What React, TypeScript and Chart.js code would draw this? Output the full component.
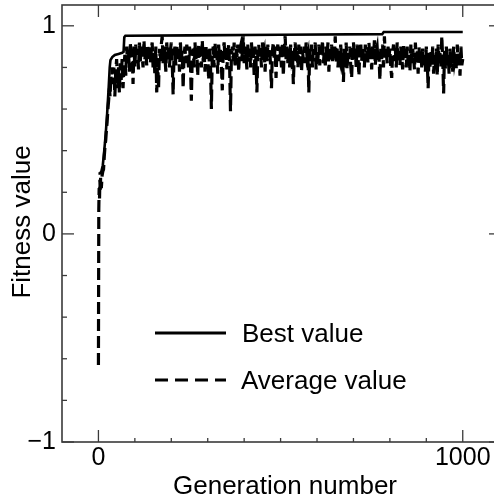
import React, { useEffect, useRef } from 'react';
import { Chart, registerables } from 'chart.js';

Chart.register(...registerables);

// ---- data ----
const earlyGenerations = [0, 1, 2, 3, 4, 5, 6, 8, 10, 12, 14, 16, 18, 20, 22, 24, 26, 28, 30, 32, 34, 36, 38];
const earlyAverage = [-0.63, 0.12, 0.22, 0.17, 0.26, 0.2, 0.27, 0.22, 0.28, 0.3, 0.31, 0.37, 0.42, 0.45, 0.5, 0.54, 0.6, 0.64, 0.7, 0.66, 0.76, 0.72, 0.8];

// average value every 2.5 generations from generation 40 to 1000
const lateStartGeneration = 40;
const lateStepGeneration = 2.5;
const lateAverage = [
  0.72, 0.8, 0.66, 0.78, 0.84, 0.7, 0.8, 0.68, 0.82, 0.74,
  0.84, 0.7, 0.8, 0.86, 0.76, 0.9, 0.82, 0.88, 0.78, 0.92,
  0.84, 0.88, 0.72, 0.9, 0.8, 0.91, 0.85, 0.89, 0.79, 0.92,
  0.83, 0.9, 0.86, 0.8, 0.93, 0.84, 0.89, 0.81, 0.91, 0.86,
  0.9, 0.82, 0.88, 0.92, 0.8, 0.87, 0.76, 0.9, 0.68, 0.84,
  0.7, 0.89, 0.83, 0.91, 0.95, 0.82, 0.9, 0.85, 0.78, 0.92,
  0.84, 0.9, 0.8, 0.88, 0.92, 0.83, 0.67, 0.87, 0.9, 0.81,
  0.91, 0.85, 0.89, 0.78, 0.92, 0.84, 0.88, 0.7, 0.86, 0.9,
  0.82, 0.91, 0.86, 0.79, 0.9, 0.83, 0.64, 0.85, 0.89, 0.8,
  0.92, 0.84, 0.88, 0.76, 0.91, 0.85, 0.9, 0.8, 0.93, 0.83,
  0.89, 0.78, 0.91, 0.84, 0.88, 0.74, 0.9, 0.82, 0.6, 0.86,
  0.9, 0.8, 0.92, 0.85, 0.88, 0.77, 0.91, 0.83, 0.89, 0.81,
  0.69, 0.88, 0.92, 0.84, 0.9, 0.79, 0.87, 0.91, 0.82, 0.59,
  0.86, 0.9, 0.83, 0.92, 0.8, 0.89, 0.85, 0.91, 0.78, 0.88,
  0.9, 0.83, 0.87, 0.95, 0.82, 0.9, 0.86, 0.79, 0.91, 0.84,
  0.89, 0.8, 0.92, 0.85, 0.88, 0.76, 0.9, 0.83, 0.68, 0.87,
  0.91, 0.84, 0.89, 0.8, 0.92, 0.86, 0.88, 0.78, 0.9, 0.83,
  0.91, 0.85, 0.89, 0.81, 0.7, 0.88, 0.92, 0.84, 0.9, 0.75,
  0.88, 0.91, 0.83, 0.9, 0.86, 0.8, 0.92, 0.76, 0.88, 0.95,
  0.84, 0.9, 0.82, 0.89, 0.8, 0.91, 0.85, 0.88, 0.72, 0.86,
  0.92, 0.83, 0.89, 0.8, 0.91, 0.86, 0.9, 0.78, 0.88, 0.84,
  0.9, 0.82, 0.92, 0.85, 0.87, 0.68, 0.89, 0.83, 0.91, 0.8,
  0.9, 0.86, 0.92, 0.79, 0.88, 0.84, 0.91, 0.81, 0.89, 0.85,
  0.93, 0.82, 0.88, 0.8, 0.9, 0.85, 0.92, 0.78, 0.89, 0.84,
  0.91, 0.83, 0.89, 0.86, 0.95, 0.82, 0.9, 0.8, 0.88, 0.85,
  0.91, 0.84, 0.87, 0.73, 0.89, 0.82, 0.92, 0.79, 0.88, 0.84,
  0.9, 0.81, 0.75, 0.88, 0.92, 0.84, 0.89, 0.8, 0.91, 0.85,
  0.76, 0.88, 0.92, 0.83, 0.9, 0.86, 0.8, 0.91, 0.84, 0.89,
  0.82, 0.92, 0.85, 0.88, 0.79, 0.9, 0.84, 0.93, 0.81, 0.88,
  0.9, 0.83, 0.86, 0.74, 0.89, 0.84, 0.91, 0.8, 0.95, 0.85,
  0.88, 0.82, 0.9, 0.85, 0.89, 0.8, 0.75, 0.87, 0.91, 0.83,
  0.89, 0.8, 0.92, 0.84, 0.88, 0.81, 0.9, 0.86, 0.79, 0.91,
  0.84, 0.88, 0.8, 0.9, 0.83, 0.87, 0.78, 0.91, 0.82, 0.89,
  0.85, 0.79, 0.92, 0.83, 0.88, 0.77, 0.9, 0.82, 0.87, 0.8,
  0.89, 0.81, 0.86, 0.78, 0.9, 0.83, 0.7, 0.87, 0.8, 0.88,
  0.82, 0.9, 0.77, 0.86, 0.8, 0.89, 0.76, 0.91, 0.83, 0.87,
  0.8, 0.95, 0.84, 0.675, 0.88, 0.79, 0.9, 0.82, 0.86, 0.77,
  0.89, 0.8, 0.87, 0.78, 0.9, 0.83, 0.86, 0.79, 0.91, 0.82,
  0.87, 0.76, 0.9, 0.81, 0.84,
];

const bestGenerations = [0, 4, 8, 12, 16, 20, 24, 28, 31, 33, 38, 45, 55, 65, 69, 71, 74, 250, 500, 779, 783, 1000];
const bestValues = [0.29, 0.29, 0.3, 0.33, 0.4, 0.48, 0.58, 0.7, 0.8, 0.835, 0.85, 0.86, 0.865, 0.87, 0.875, 0.945, 0.952, 0.954, 0.957, 0.96, 0.97, 0.97];

const xTickLabels = [0, 1000];
const xMinorTicks = [100, 200, 300, 400, 500, 600, 700, 800, 900];
const yTickLabels = [-1, 0, 1];
const yMinorTicks = [-0.8, -0.6, -0.4, -0.2, 0.2, 0.4, 0.6, 0.8];

const seriesNames = ['Best value', 'Average value'];
const xTitle = 'Generation number';
const yTitle = 'Fitness value';

const FONT = '"Liberation Sans", Arial, Helvetica, sans-serif';

function buildAverage() {
  const pts: { x: number; y: number }[] = [];
  earlyGenerations.forEach((g, i) => pts.push({ x: g, y: earlyAverage[i] }));
  lateAverage.forEach((v, i) => pts.push({ x: lateStartGeneration + i * lateStepGeneration, y: v }));
  return pts;
}

const framePlugin = {
  id: 'framePlugin',
  afterDraw(chart: any) {
    const { ctx, chartArea: a, scales } = chart;
    const xs = scales.x;
    const ys = scales.y;
    ctx.save();
    ctx.strokeStyle = '#3a3a3a';
    ctx.lineWidth = 1.6;
    ctx.setLineDash([]);
    ctx.strokeRect(a.left, a.top, a.right - a.left, a.bottom - a.top);
    const seg = (x1: number, y1: number, x2: number, y2: number) => {
      ctx.beginPath();
      ctx.moveTo(x1, y1);
      ctx.lineTo(x2, y2);
      ctx.stroke();
    };
    ctx.lineWidth = 1.3;
    xMinorTicks.forEach((v) => {
      const p = xs.getPixelForValue(v);
      seg(p, a.bottom, p, a.bottom - 4);
      seg(p, a.top, p, a.top + 5);
    });
    xTickLabels.forEach((v) => {
      const p = xs.getPixelForValue(v);
      seg(p, a.bottom, p, a.bottom - 12);
      seg(p, a.top, p, a.top + 12);
    });
    yMinorTicks.forEach((v) => {
      const p = ys.getPixelForValue(v);
      seg(a.left, p, a.left + 5, p);
      seg(a.right, p, a.right - 5, p);
    });
    yTickLabels.forEach((v) => {
      const p = ys.getPixelForValue(v);
      seg(a.left, p, a.left + 12, p);
      seg(a.right, p, a.right - 12, p);
    });

    // axis titles
    ctx.fillStyle = '#000';
    ctx.font = `26px ${FONT}`;
    ctx.textAlign = 'center';
    ctx.textBaseline = 'alphabetic';
    ctx.fillText(xTitle, 285, 494);
    ctx.save();
    ctx.translate(30, 222);
    ctx.rotate(-Math.PI / 2);
    ctx.fillText(yTitle, 0, 0);
    ctx.restore();

    // legend
    ctx.strokeStyle = '#000';
    ctx.lineWidth = 2.8;
    seg(155, 333, 226, 333);
    ctx.setLineDash([13, 7]);
    seg(155, 380, 226, 380);
    ctx.setLineDash([]);
    ctx.textAlign = 'left';
    ctx.fillText(seriesNames[0], 242, 342);
    ctx.fillText(seriesNames[1], 241, 389);
    ctx.restore();
  },
};

const fmt = (v: number) => (v < 0 ? '\u2212' + Math.abs(v) : String(v));

export default function App() {
  const ref = useRef<HTMLCanvasElement | null>(null);
  useEffect(() => {
    if (!ref.current) return;
    const chart = new Chart(ref.current, {
      type: 'line',
      data: {
        datasets: [
          {
            label: seriesNames[1],
            data: buildAverage(),
            borderColor: '#000',
            borderWidth: 3.2,
            borderDash: [12, 5],
            pointRadius: 0,
            tension: 0,
            fill: false,
          },
          {
            label: seriesNames[0],
            data: bestGenerations.map((g, i) => ({ x: g, y: bestValues[i] })),
            borderColor: '#000',
            borderWidth: 2.6,
            pointRadius: 0,
            tension: 0,
            fill: false,
          },
        ],
      },
      options: {
        animation: false,
        responsive: false,
        maintainAspectRatio: false,
        devicePixelRatio: 1,
        layout: { padding: { top: 5, right: 19, left: 0, bottom: 0 } },
        plugins: { legend: { display: false }, tooltip: { enabled: false } },
        scales: {
          x: {
            type: 'linear',
            min: -100,
            max: 1105,
            grid: { display: false, drawTicks: false },
            border: { display: false },
            afterBuildTicks: (s: any) => {
              s.ticks = xTickLabels.map((v) => ({ value: v }));
            },
            ticks: {
              autoSkip: false,
              maxRotation: 0,
              padding: 1,
              color: '#000',
              font: { size: 25, family: FONT },
              callback: (v: any) => fmt(v),
            },
            afterFit: (s: any) => {
              s.height = 57;
              s.paddingLeft = 0;
              s.paddingRight = 0;
            },
          },
          y: {
            type: 'linear',
            min: -1,
            max: 1.1,
            grid: { display: false, drawTicks: false },
            border: { display: false },
            afterBuildTicks: (s: any) => {
              s.ticks = yTickLabels.map((v) => ({ value: v }));
            },
            ticks: {
              autoSkip: false,
              padding: 6,
              color: '#000',
              font: { size: 25, family: FONT },
              callback: (v: any) => fmt(v),
            },
            afterFit: (s: any) => {
              s.width = 62;
              s.paddingTop = 0;
              s.paddingBottom = 0;
            },
          },
        },
      } as any,
      plugins: [framePlugin],
    });
    return () => chart.destroy();
  }, []);

  return (
    <div style={{ position: 'fixed', left: 0, top: 0, width: 494, height: 499, overflow: 'hidden', background: '#fff' }}>
      <canvas ref={ref} width={520} height={499} style={{ display: 'block' }} />
    </div>
  );
}
